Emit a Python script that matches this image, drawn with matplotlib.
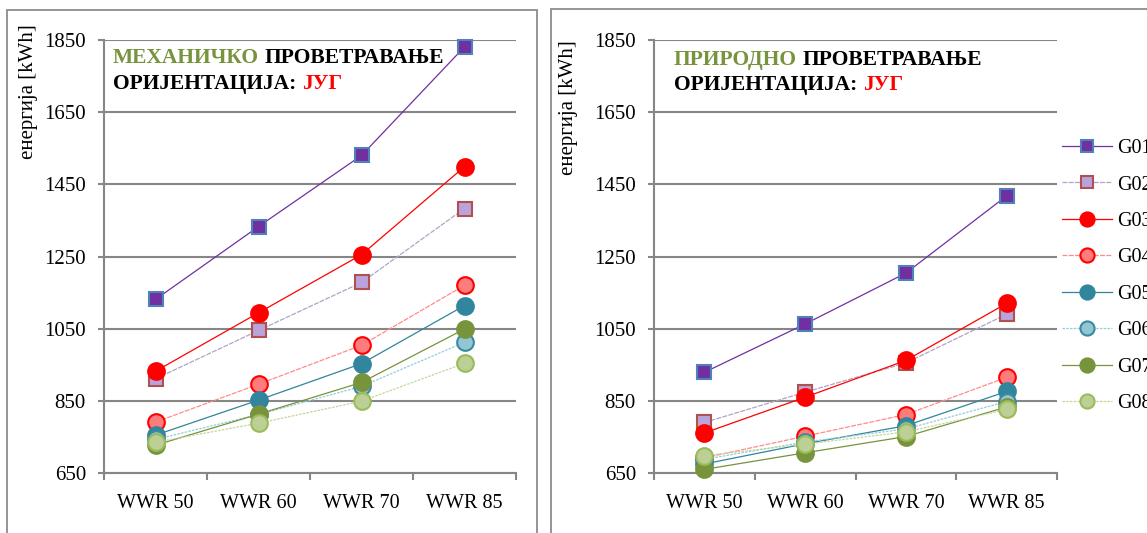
import matplotlib
matplotlib.use("Agg")
import matplotlib.pyplot as plt
from matplotlib.patches import Rectangle
from matplotlib.lines import Line2D

# ---- data -----------------------------------------------------------
categories = ["WWR 50", "WWR 60", "WWR 70", "WWR 85"]
series_names = ["G01", "G02", "G03", "G04", "G05", "G06", "G07", "G08"]

# mechanical ventilation, south orientation [kWh]
mech_G01 = [1131, 1333, 1530, 1831]
mech_G02 = [911, 1045, 1178, 1383]
mech_G03 = [932, 1094, 1255, 1499]
mech_G04 = [791, 896, 1004, 1170]
mech_G05 = [755, 852, 953, 1114]
mech_G06 = [743, 812, 890, 1012]
mech_G07 = [727, 813, 901, 1049]
mech_G08 = [735, 788, 849, 954]

# natural ventilation, south orientation [kWh]
nat_G01 = [929, 1063, 1204, 1418]
nat_G02 = [790, 874, 955, 1090]
nat_G03 = [761, 860, 962, 1120]
nat_G04 = [692, 752, 812, 915]
nat_G05 = [675, 731, 781, 876]
nat_G06 = [688, 736, 772, 848]
nat_G07 = [660, 706, 751, 833]
nat_G08 = [698, 730, 764, 826]

y_ticks = [650, 850, 1050, 1250, 1450, 1650, 1850]

mech = [mech_G01, mech_G02, mech_G03, mech_G04, mech_G05, mech_G06, mech_G07, mech_G08]
nat = [nat_G01, nat_G02, nat_G03, nat_G04, nat_G05, nat_G06, nat_G07, nat_G08]

# ---- styles ---------------------------------------------------------
styles = [
    dict(color="#7030A0", marker="s", mfc="#7030A0", mec="#4F81BD", ms=10.5, ls="-"),
    dict(color="#B3A2C7", marker="s", mfc="#B9A3DA", mec="#B0504F", ms=10.5, ls=(0, (4, 1))),
    dict(color="#FF0000", marker="o", mfc="#FF0000", mec="#FF0000", ms=12, ls="-"),
    dict(color="#FF8C8C", marker="o", mfc="#FF7C7C", mec="#FF0000", ms=12, ls=(0, (4, 1))),
    dict(color="#31859C", marker="o", mfc="#31859C", mec="#31859C", ms=12, ls="-"),
    dict(color="#93CDDD", marker="o", mfc="#93C6D4", mec="#3A8AA0", ms=12, ls=(0, (2, 1))),
    dict(color="#77933C", marker="o", mfc="#77933C", mec="#77933C", ms=12, ls="-"),
    dict(color="#C3D69B", marker="o", mfc="#BCCF94", mec="#9BBB59", ms=12, ls=(0, (2, 1))),
]

SERIF = ["Liberation Serif", "DejaVu Serif"]
plt.rcParams["font.family"] = SERIF
GRID = "#868686"
GREEN = "#77933C"

W, H = 1147, 533
fig = plt.figure(figsize=(W / 100, H / 100), dpi=100)


def px(x, y, w, h):
    return [x / W, 1 - (y + h) / H, w / W, h / H]


# panel frames
for (x0, y0, w, h) in [(7, 10, 530, 540), (551, 9, 620, 540)]:
    fig.patches.append(Rectangle((x0 / W, 1 - (y0 + h) / H), w / W, h / H,
                                 transform=fig.transFigure, fill=False,
                                 edgecolor="#8C8C8C", lw=1.3))

ax_l = fig.add_axes(px(104, 40, 412, 433))
ax_r = fig.add_axes(px(654, 40, 403, 433))

xpos = [i + 0.5 for i in range(len(categories))]

for ax, data in [(ax_l, mech), (ax_r, nat)]:
    for name, vals, st in zip(series_names, data, styles):
        ax.plot(xpos, vals, color=st["color"], ls=st["ls"], lw=0.9,
                marker=st["marker"], ms=st["ms"], mfc=st["mfc"], mec=st["mec"],
                mew=1.5, label=name, clip_on=False, zorder=3)
    ax.set_xlim(0, len(categories))
    ax.set_ylim(y_ticks[0], y_ticks[-1])
    ax.set_yticks(y_ticks)
    ax.set_xticks(range(len(categories) + 1))
    ax.set_xticklabels([])
    ax.set_xticks(xpos, minor=True)
    ax.set_xticklabels(categories, minor=True)
    ax.tick_params(axis="x", which="major", length=5, width=1.5, color=GRID, direction="out")
    ax.tick_params(axis="x", which="minor", length=0, pad=15, labelsize=14.5)
    ax.tick_params(axis="y", length=4, width=1.5, color=GRID, pad=9, labelsize=15)
    ax.grid(axis="y", color=GRID, lw=1.5, zorder=0)
    ax.set_axisbelow(True)
    for s in ("top", "right"):
        ax.spines[s].set_visible(False)
    for s in ("left", "bottom"):
        ax.spines[s].set_color(GRID)
        ax.spines[s].set_linewidth(1.5)

# y-axis titles
fig.text(28 / W, 1 - 24 / H, "енергија [kWh]", rotation=90, ha="center", va="top", fontsize=15)
fig.text(569 / W, 1 - 40 / H, "енергија [kWh]", rotation=90, ha="center", va="top", fontsize=15)

# two-colour titles drawn piece by piece on a common baseline
renderer = fig.canvas.get_renderer()


def rich_line(x_px, y_px, pieces, size=15.5):
    x = x_px
    for txt, col in pieces:
        t = fig.text(x / W, 1 - y_px / H, txt, color=col, fontsize=size,
                     fontweight="bold", ha="left", va="baseline")
        bb = t.get_window_extent(renderer=renderer)
        x += bb.width + size * 0.25 * 100 / 72


rich_line(113, 63, [("МЕХАНИЧКО", GREEN), ("ПРОВЕТРАВАЊЕ", "black")])
rich_line(113, 89, [("ОРИЈЕНТАЦИЈА:", "black"), ("ЈУГ", "#FF0000")])
rich_line(674, 65, [("ПРИРОДНО", GREEN), ("ПРОВЕТРАВАЊЕ", "black")])
rich_line(674, 90, [("ОРИЈЕНТАЦИЈА:", "black"), ("ЈУГ", "#FF0000")])

# legend
handles = [Line2D([], [], color=st["color"], ls=st["ls"], lw=0.9, marker=st["marker"],
                  ms=st["ms"] * 0.85, mfc=st["mfc"], mec=st["mec"], mew=1.5)
           for st in styles]
fig.legend(handles, series_names, loc="upper left",
           bbox_to_anchor=(1062 / W, 1 - 139 / H), frameon=False,
           borderpad=0, borderaxespad=0, handlelength=2.5, handletextpad=0.25,
           labelspacing=0.86, fontsize=14.5)

fig.savefig("out.png", dpi=100)
